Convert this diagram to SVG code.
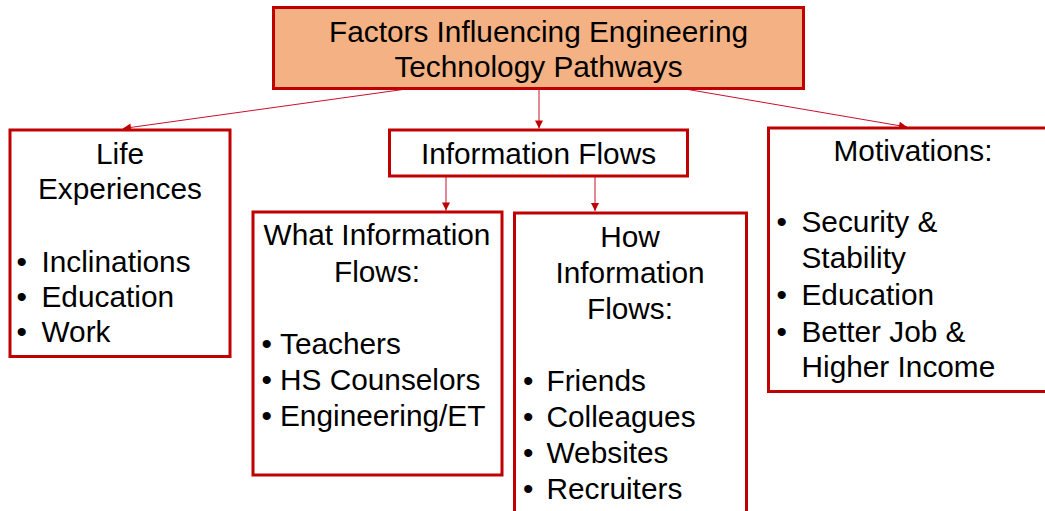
<svg xmlns="http://www.w3.org/2000/svg" width="1045" height="511" viewBox="0 0 1045 511">
  <defs>
    <style>
      .box { fill: #ffffff; stroke: #c00000; stroke-width: 3; }
      .root { fill: #f4b183; stroke: #c00000; stroke-width: 3; }
      .lbl { font-family: "Liberation Sans", Arial, sans-serif; font-size: 29.8px; fill: #000000; }
      .mid { text-anchor: middle; }
      .link { fill: none; stroke: #c8102e; stroke-width: 1; }
    </style>
    <marker id="arrow" viewBox="0 0 10 10" refX="10" refY="5" markerWidth="9" markerHeight="8" markerUnits="userSpaceOnUse" orient="auto">
      <path d="M0,0 L10,5 L0,10 z" fill="#c00000"/>
    </marker>
  </defs>
  <rect width="1045" height="511" fill="#ffffff"/>

  <!-- connectors -->
  <g id="connectors">
    <line class="link" x1="403" y1="89.5" x2="123" y2="128.5" marker-end="url(#arrow)"/>
    <line class="link" x1="539" y1="89.5" x2="539" y2="128.5" marker-end="url(#arrow)"/>
    <line class="link" x1="688" y1="89.5" x2="907" y2="127" marker-end="url(#arrow)"/>
    <line class="link" x1="446" y1="177" x2="446" y2="210.5" marker-end="url(#arrow)"/>
    <line class="link" x1="595" y1="177" x2="595" y2="211" marker-end="url(#arrow)"/>
  </g>

  <!-- root -->
  <g id="root">
    <rect class="root" x="273.5" y="7.5" width="530" height="81"/>
    <text class="lbl mid" x="538.5" y="41.5">Factors Influencing Engineering</text>
    <text class="lbl mid" x="538.5" y="76.5">Technology Pathways</text>
  </g>

  <!-- life experiences -->
  <g id="life">
    <rect class="box" x="10" y="130" width="220" height="226.5"/>
    <text class="lbl mid" x="120" y="164">Life</text>
    <text class="lbl mid" x="120" y="199">Experiences</text>
    <text class="lbl"><tspan x="16.5" y="271.5">•</tspan><tspan x="41.5" y="271.5">Inclinations</tspan></text>
    <text class="lbl"><tspan x="16.5" y="307">•</tspan><tspan x="41.5" y="307">Education</tspan></text>
    <text class="lbl"><tspan x="16.5" y="342">•</tspan><tspan x="41.5" y="342">Work</tspan></text>
  </g>

  <!-- information flows -->
  <g id="info">
    <rect class="box" x="389.5" y="130" width="298" height="46"/>
    <text class="lbl mid" x="538.5" y="164">Information Flows</text>
  </g>

  <!-- what information flows -->
  <g id="what">
    <rect class="box" x="253" y="212" width="249" height="263"/>
    <text class="lbl mid" x="377" y="245">What Information</text>
    <text class="lbl mid" x="377" y="281.5">Flows:</text>
    <text class="lbl"><tspan x="261.5" y="353.5">•</tspan><tspan x="280" y="353.5">Teachers</tspan></text>
    <text class="lbl"><tspan x="261.5" y="389.5">•</tspan><tspan x="280" y="389.5">HS Counselors</tspan></text>
    <text class="lbl"><tspan x="261.5" y="425.5">•</tspan><tspan x="280" y="425.5">Engineering/ET</tspan></text>
  </g>

  <!-- how information flows -->
  <g id="how">
    <rect class="box" x="514.5" y="213" width="232" height="320"/>
    <text class="lbl mid" x="630" y="246.5">How</text>
    <text class="lbl mid" x="630" y="282.5">Information</text>
    <text class="lbl mid" x="630" y="318.5">Flows:</text>
    <text class="lbl"><tspan x="523" y="390.5">•</tspan><tspan x="546.5" y="390.5">Friends</tspan></text>
    <text class="lbl"><tspan x="523" y="426.5">•</tspan><tspan x="546.5" y="426.5">Colleagues</tspan></text>
    <text class="lbl"><tspan x="523" y="462.5">•</tspan><tspan x="546.5" y="462.5">Websites</tspan></text>
    <text class="lbl"><tspan x="523" y="498.5">•</tspan><tspan x="546.5" y="498.5">Recruiters</tspan></text>
  </g>

  <!-- motivations -->
  <g id="motivations">
    <rect class="box" x="768.5" y="128" width="300" height="263.5"/>
    <text class="lbl mid" x="913" y="161">Motivations:</text>
    <text class="lbl"><tspan x="776.5" y="232">•</tspan><tspan x="801.5" y="232">Security &amp;</tspan></text>
    <text class="lbl"><tspan x="801.5" y="268">Stability</tspan></text>
    <text class="lbl"><tspan x="776.5" y="305">•</tspan><tspan x="801.5" y="305">Education</tspan></text>
    <text class="lbl"><tspan x="776.5" y="341.5">•</tspan><tspan x="801.5" y="341.5">Better Job &amp;</tspan></text>
    <text class="lbl"><tspan x="801.5" y="377">Higher Income</tspan></text>
  </g>
</svg>
